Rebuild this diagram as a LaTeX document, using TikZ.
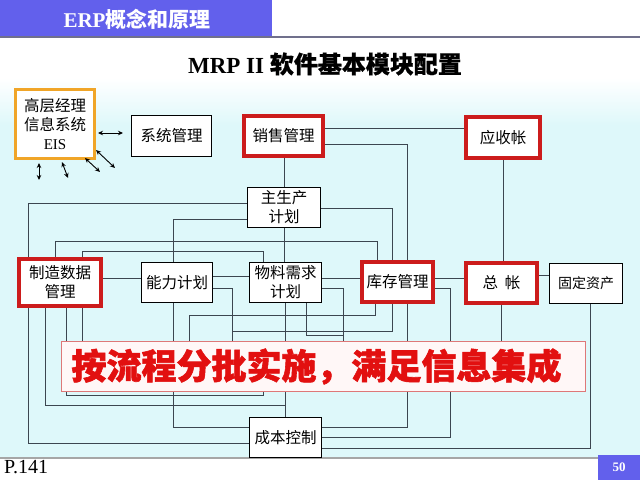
\documentclass[tikz,border=0pt]{standalone}
\usepackage{fontspec}
\setmainfont{Liberation Serif}
\newfontfamily\cjk{Noto Sans CJK SC}
\newfontfamily\cjkheavy{Noto Sans CJK SC}[BoldFeatures={FakeBold=1.6}]
\newfontfamily\cjktitle{Noto Sans CJK SC}[BoldFeatures={FakeBold=0.7}]
\usetikzlibrary{arrows.meta}
\definecolor{hdr}{RGB}{98,96,236}
\definecolor{rulec}{RGB}{112,112,140}
\definecolor{panel}{RGB}{222,248,250}
\definecolor{redb}{RGB}{204,28,28}
\definecolor{orb}{RGB}{240,165,40}
\definecolor{wirec}{RGB}{60,70,80}
\definecolor{bantext}{RGB}{226,16,16}
\definecolor{banborder}{RGB}{222,120,120}
\definecolor{banfill}{RGB}{255,247,247}
\pgfdeclarelayer{back}
\pgfdeclarelayer{wires}
\pgfsetlayers{back,wires,main}
\begin{document}
\begin{tikzpicture}[x=1pt,y=-1pt,
  box/.style={draw=black,line width=1.3pt,fill=white,inner sep=0pt,outer sep=0pt,align=center,
    font=\cjk\fontsize{15.5}{19}\selectfont},
  redbox/.style={box,draw=redb,line width=3.8pt},
  eisbox/.style={box,draw=orb,line width=3.8pt},
  wire/.style={draw=wirec,line width=0.8pt},
  dbl/.style={draw=black,line width=0.9pt,{Stealth[length=5pt,width=4.5pt]}-{Stealth[length=5pt,width=4.5pt]}}]
\useasboundingbox (0,0) rectangle (640,480);
\begin{pgfonlayer}{back}
\fill[white] (0,0) rectangle (640,480);
\fill[panel] (0,80) rectangle (640,458);
\shade[top color=white,bottom color=panel] (0,78) rectangle (640,125);
\fill[hdr] (0,0) rectangle (272,36);
\draw[rulec,line width=2pt] (0,37) -- (640,37);
\draw[black!35,line width=1.2pt] (0,458) -- (640,458);
\end{pgfonlayer}

% header texts
\node[text=white,inner sep=0pt,font=\fontsize{21}{24}\selectfont] (head) at (137,19)
  {{\bfseries ERP}{\cjk\bfseries 概念和原理}};
\node[inner sep=0pt,font=\fontsize{23}{26}\selectfont] (title) at (325,64)
  {{\bfseries MRP II }{\cjktitle\bfseries\fontsize{24}{26}\selectfont 软件基本模块配置}};
\node[inner sep=0pt,anchor=west,font=\fontsize{20}{22}\selectfont] (page) at (4,467) {P.141};
\node[fill=hdr,text=white,inner sep=0pt,minimum width=42pt,minimum height=25pt,
  font=\bfseries\fontsize{13}{15}\selectfont] (num) at (619,467.5) {50};

% modules
\node[eisbox,minimum width=79pt,minimum height=69pt] (eis) at (55,124)
  {高层经理\\信息系统\\{\rmfamily\fontsize{15}{19}\selectfont EIS}};
\node[box,minimum width=80pt,minimum height=41pt] (sys) at (171.5,136) {系统管理};
\node[redbox,minimum width=79pt,minimum height=40pt] (sales) at (283.5,136) {销售管理};
\node[redbox,minimum width=74pt,minimum height=41pt] (ar) at (503,137.5) {应收帐};
\node[box,minimum width=73pt,minimum height=40pt] (mps) at (284,207.5) {主生产\\计划};
\node[redbox,minimum width=82pt,minimum height=47pt] (mfg) at (60,282.5) {制造数据\\管理};
\node[box,minimum width=71pt,minimum height=40pt] (cap) at (177,282.5) {能力计划};
\node[box,minimum width=72pt,minimum height=40pt] (mrp) at (285.5,282.5) {物料需求\\计划};
\node[redbox,minimum width=71pt,minimum height=40pt] (inv) at (397.5,282) {库存管理};
\node[redbox,minimum width=71pt,minimum height=40pt] (gl) at (501.5,283) {总\ \ 帐};
\node[box,minimum width=73pt,minimum height=40pt,font=\cjk\fontsize{14}{17}\selectfont] (fa) at (586,283.5) {固定资产};
\node[box,minimum width=72pt,minimum height=40pt] (cost) at (285.5,437.5) {成本控制};
\node[draw=banborder,line width=1pt,fill=banfill,minimum width=524pt,minimum height=50pt,inner sep=0pt,
  text=bantext,font=\cjkheavy\bfseries\fontsize{35}{38}\selectfont] (banner) at (323.5,366.5)
  {\hspace*{-14pt}按流程分批实施，满足信息集成};

% free ends of the EIS arrows
\coordinate (e1a) at (98,133);  \coordinate (e1b) at (123,133);
\coordinate (e2a) at (96,150);  \coordinate (e2b) at (115,168);
\coordinate (e3a) at (85,158);  \coordinate (e3b) at (100,172);
\coordinate (e4a) at (62,162);  \coordinate (e4b) at (68,178);
\coordinate (e5a) at (39,163);  \coordinate (e5b) at (39,180);
\draw[dbl] (e1a) -- (e1b);
\draw[dbl] (e2a) -- (e2b);
\draw[dbl] (e3a) -- (e3b);
\draw[dbl] (e4a) -- (e4b);
\draw[dbl] (e5a) -- (e5b);

\begin{pgfonlayer}{wires}
\path[wire] (sales.south -| mps.north) -- (mps.north);
\path[wire] (sales.east |- 0,128) -- (ar.west |- 0,128);
\path[wire] (sales.east |- 0,144) -| (inv.north -| 407,0);
\path[wire] (ar.south) -- (ar.south |- gl.north);
\path[wire] (mps.west |- 0,203) -| (mfg.north -| 28,0);
\path[wire] (mps.west |- 0,219) -| (cap.north -| 173,0);
\path[wire] (mfg.north -| 55,0) |- (377,241) -- (inv.north -| 377,0);
\path[wire] (mfg.north -| 82,0) |- (263,251) -- (mrp.north -| 263,0);
\path[wire] (mps.south) -- (mps.south |- mrp.north);
\path[wire] (mps.east |- 0,208) -| (inv.north -| 392,0);
\path[wire] (mfg.east |- 0,278) -- (cap.west |- 0,278);
\path[wire] (cap.east |- 0,276) -- (mrp.west |- 0,276);
\path[wire] (cap.east |- 0,288) -| (232,331) -| (inv.south -| 392,0);
\path[wire] (232,331) -- (banner.north -| 232,0);
\path[wire] (mrp.east |- 0,278) -- (inv.west |- 0,278);
\path[wire] (mrp.east |- 0,288) -| (banner.north -| 343,0);
\path[wire] (inv.east |- 0,278) -- (gl.west |- 0,278);
\path[wire] (inv.east |- 0,288) -| (450,437) -- (cost.east |- 0,437);
\path[wire] (inv.south -| 407,0) |- (cost.east |- 0,427);
\path[wire] (inv.south -| 375,0) |- (189,315) -- (banner.north -| 189,0);
\path[wire] (gl.east |- 0,275) -- (fa.west |- 0,275);
\path[wire] (gl.south) -- (gl.south |- banner.north);
\path[wire] (fa.south -| 590,0) |- (cost.east |- 0,448);
\path[wire] (mfg.south -| 28,0) |- (cost.west |- 0,443);
\path[wire] (mfg.south -| 45,0) |- (285.5,405) -- (cost.north);
\path[wire] (mrp.south) -- (cost.north);
\path[wire] (cap.south -| 173,0) |- (cost.west |- 0,427);
\path[wire] (mfg.south -| 66,0) |- (263,395) -- (banner.south -| 263,0);
\path[wire] (mfg.south -| 82,0) -- (banner.north -| 82,0);
\path[wire] (mrp.south -| 306,0) |- (343,335);
\end{pgfonlayer}
\end{tikzpicture}
\end{document}
